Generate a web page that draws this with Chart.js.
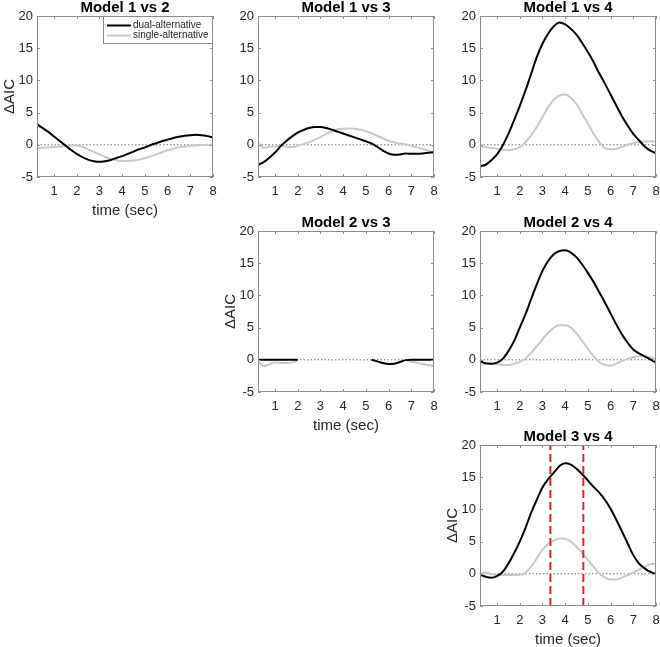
<!DOCTYPE html>
<html>
<head>
<meta charset="utf-8">
<script src="https://cdn.jsdelivr.net/npm/chart.js@4.4.0/dist/chart.umd.min.js"></script>
<style>
  html, body { margin: 0; padding: 0; background: #fff; }
  body { width: 660px; height: 647px; position: relative; overflow: hidden; }
  canvas { position: absolute; }
</style>
</head>
<body>
<script>
// time axis (sec)
const times = [0.25, 0.5, 0.75, 1, 1.25, 1.5, 1.75, 2, 2.25, 2.5, 2.75, 3, 3.25, 3.5, 3.75, 4,
               4.25, 4.5, 4.75, 5, 5.25, 5.5, 5.75, 6, 6.25, 6.5, 6.75, 7, 7.25, 7.5, 7.75, 8];

// delta AIC, dual-alternative (black) and single-alternative (gray)
const m12Dual   = [3.2, 2.6, 2.0, 1.3, 0.6, -0.1, -0.8, -1.4, -1.9, -2.3, -2.55, -2.65, -2.55, -2.35, -2.05, -1.75,
                   -1.4, -1.05, -0.7, -0.4, -0.05, 0.25, 0.55, 0.8, 1.05, 1.25, 1.4, 1.5, 1.55, 1.5, 1.35, 1.15];
const m12Single = [-0.45, -0.45, -0.4, -0.35, -0.3, -0.2, -0.1, -0.1, -0.3, -0.7, -1.1, -1.5, -1.9, -2.2, -2.4, -2.5,
                   -2.5, -2.45, -2.3, -2.1, -1.8, -1.5, -1.15, -0.85, -0.6, -0.4, -0.25, -0.15, -0.1, -0.05, 0, 0];
const m13Dual   = [-3.1, -2.7, -2.0, -1.2, -0.2, 0.6, 1.3, 1.9, 2.3, 2.6, 2.75, 2.75, 2.6, 2.35, 2.05, 1.75,
                   1.45, 1.15, 0.85, 0.55, 0.2, -0.3, -0.9, -1.35, -1.55, -1.5, -1.35, -1.4, -1.4, -1.35, -1.25, -1.15];
const m13Single = [0.3, -0.5, -0.3, -0.25, -0.1, -0.3, -0.35, -0.15, 0.1, 0.4, 0.8, 1.2, 1.7, 2.1, 2.4, 2.5,
                   2.55, 2.5, 2.35, 2.1, 1.8, 1.4, 1.0, 0.6, 0.35, 0.2, 0.05, -0.15, -0.4, -0.65, -0.9, -1.15];
const m14Dual   = [-3.3, -3.1, -2.4, -1.5, -0.1, 1.7, 3.8, 6.0, 8.4, 11.0, 13.6, 15.7, 17.25, 18.4, 19.0, 18.7,
                   18.0, 17.1, 15.8, 14.4, 12.85, 11.1, 9.5, 7.8, 6.1, 4.45, 3.0, 1.7, 0.7, -0.25, -0.9, -1.3];
const m14Single = [-0.2, -0.35, -0.5, -0.6, -0.75, -0.85, -0.7, -0.35, 0.4, 1.45, 2.75, 4.3, 5.85, 7.0, 7.65, 7.8,
                   7.3, 6.3, 4.8, 3.3, 1.7, 0.4, -0.5, -0.7, -0.6, -0.35, 0, 0.25, 0.4, 0.5, 0.55, 0.5];
const m23Dual   = [0, 0, 0, 0, 0, 0, 0, 0, null, null, null, null, null, null, null, null,
                   null, null, null, null, 0, -0.25, -0.5, -0.65, -0.6, -0.35, -0.05, 0, 0, 0, 0, 0];
const m23Single = [-0.2, -1.0, -0.7, -0.4, -0.5, -0.5, -0.4, -0.1, null, null, null, null, null, null, null, null,
                   null, null, null, null, null, null, null, null, null, null, 0, -0.25, -0.45, -0.65, -0.8, -0.95];
const m24Dual   = [-0.2, -0.55, -0.6, -0.45, 0.15, 1.35, 2.9, 5.0, 7.05, 9.4, 11.7, 13.8, 15.35, 16.4, 16.9, 17.0,
                   16.65, 15.9, 14.8, 13.5, 12.1, 10.5, 8.9, 7.2, 5.5, 3.95, 2.65, 1.6, 1.0, 0.55, 0.05, -0.45];
const m24Single = [-0.6, -0.65, -0.65, -0.7, -0.75, -0.8, -0.6, -0.3, 0.2, 1.1, 2.1, 3.15, 4.2, 5.0, 5.35, 5.35,
                   5.0, 4.1, 2.9, 1.7, 0.55, -0.35, -0.8, -0.9, -0.6, -0.2, 0.15, 0.4, 0.55, 0.55, 0.35, 0.05];
const m34Dual   = [-0.1, -0.45, -0.6, -0.35, 0.3, 1.6, 3.2, 5.0, 7.1, 9.45, 11.5, 13.4, 14.7, 15.7, 16.75, 17.15,
                   16.95, 16.3, 15.45, 14.5, 13.5, 12.6, 11.5, 10.1, 8.4, 6.6, 4.75, 2.9, 1.6, 0.85, 0.3, -0.05];
const m34Single = [-0.1, 0.2, -0.05, -0.2, -0.2, -0.2, -0.2, -0.15, 0.15, 1.1, 2.4, 3.7, 4.65, 5.15, 5.5, 5.45,
                   5.0, 4.2, 3.3, 2.15, 1.1, 0.05, -0.55, -0.9, -0.9, -0.6, -0.2, 0.2, 0.7, 1.1, 1.5, 1.6];

// red dashed markers in the last panel
const cutTimes = [3.35, 4.8];

const xTicks = [1, 2, 3, 4, 5, 6, 7, 8];
const yTicks = [-5, 0, 5, 10, 15, 20];
const xMin = 0.25, xMax = 8, yMin = -5, yMax = 20;
const seriesNames = ['dual-alternative', 'single-alternative'];

const FONT = "'Liberation Sans', Arial, Helvetica, sans-serif";
const AXIS_GRAY = '#8c8c8c';
const DUAL_COLOR = '#000000';
const SINGLE_COLOR = '#c8c8c8';

// layout of the grid (px)
const PAD_L = 37, PAD_T = 16, PAD_R = 8, PAD_B = 44;
const PLOT_W = 176, PLOT_H = 161;
const colLeft = [37, 258, 480];
const rowTop = [16, 231, 445];

const panels = [
  { title: 'Model 1 vs 2', dual: m12Dual, single: m12Single, col: 0, row: 0, labels: true, legend: true },
  { title: 'Model 1 vs 3', dual: m13Dual, single: m13Single, col: 1, row: 0 },
  { title: 'Model 1 vs 4', dual: m14Dual, single: m14Single, col: 2, row: 0 },
  { title: 'Model 2 vs 3', dual: m23Dual, single: m23Single, col: 1, row: 1, labels: true },
  { title: 'Model 2 vs 4', dual: m24Dual, single: m24Single, col: 2, row: 1 },
  { title: 'Model 3 vs 4', dual: m34Dual, single: m34Single, col: 2, row: 2, labels: true, cuts: cutTimes }
];

function toPoints(ys) {
  return times.map((t, i) => ({ x: t, y: ys[i] }));
}

// box, inward ticks, title, axis labels, legend (MATLAB look)
const decor = {
  id: 'decor',
  afterDatasetsDraw(chart, args, opts) {
    const { ctx, chartArea: a, scales } = chart;
    ctx.save();
    ctx.strokeStyle = AXIS_GRAY;
    ctx.lineWidth = 1;
    ctx.strokeRect(a.left + 0.5, a.top + 0.5, a.width - 1, a.height - 1);

    const tl = 3;
    ctx.beginPath();
    xTicks.forEach(v => {
      const px = Math.round(scales.x.getPixelForValue(v)) + 0.5;
      ctx.moveTo(px, a.bottom); ctx.lineTo(px, a.bottom - tl);
      ctx.moveTo(px, a.top); ctx.lineTo(px, a.top + tl);
    });
    yTicks.forEach(v => {
      const py = Math.round(scales.y.getPixelForValue(v)) + 0.5;
      ctx.moveTo(a.left, py); ctx.lineTo(a.left + tl, py);
      ctx.moveTo(a.right, py); ctx.lineTo(a.right - tl, py);
    });
    ctx.stroke();

    ctx.fillStyle = '#000';
    ctx.font = 'bold 15px ' + FONT;
    ctx.textAlign = 'center';
    ctx.textBaseline = 'alphabetic';
    ctx.fillText(opts.title, (a.left + a.right) / 2, a.top - 4);

    if (opts.labels) {
      ctx.fillStyle = '#262626';
      ctx.font = '15px ' + FONT;
      ctx.textBaseline = 'middle';
      ctx.fillText('time (sec)', (a.left + a.right) / 2, a.bottom + 34);
      ctx.save();
      ctx.translate(a.left - 27, (a.top + a.bottom) / 2);
      ctx.rotate(-Math.PI / 2);
      ctx.fillText('\u0394AIC', 0, 0);
      ctx.restore();
    }

    if (opts.legend) {
      const lx = a.right - 110, ly = a.top, lw = 110, lh = 28;
      ctx.fillStyle = '#fff';
      ctx.fillRect(lx, ly, lw, lh);
      ctx.strokeStyle = AXIS_GRAY;
      ctx.strokeRect(lx + 0.5, ly + 0.5, lw - 1, lh - 1);
      const cols = [DUAL_COLOR, SINGLE_COLOR];
      ctx.font = '10px ' + FONT;
      ctx.textAlign = 'left';
      ctx.textBaseline = 'middle';
      seriesNames.forEach((name, i) => {
        const y = ly + 9.5 + i * 10;
        ctx.strokeStyle = cols[i];
        ctx.lineWidth = 2;
        ctx.beginPath();
        ctx.moveTo(lx + 4, y); ctx.lineTo(lx + 28, y);
        ctx.stroke();
        ctx.fillStyle = '#262626';
        ctx.fillText(name, lx + 30, y);
      });
    }
    ctx.restore();
  }
};

panels.forEach(p => {
  const canvas = document.createElement('canvas');
  const w = PAD_L + PLOT_W + PAD_R, h = PAD_T + PLOT_H + PAD_B;
  canvas.width = w;
  canvas.height = h;
  canvas.style.width = w + 'px';
  canvas.style.height = h + 'px';
  canvas.style.left = (colLeft[p.col] - PAD_L) + 'px';
  canvas.style.top = (rowTop[p.row] - PAD_T) + 'px';
  document.body.appendChild(canvas);

  const datasets = [];
  (p.cuts || []).forEach(t => {
    datasets.push({
      data: [{ x: t, y: yMin }, { x: t, y: yMax }],
      borderColor: '#d7262b',
      borderWidth: 2,
      borderDash: [8, 4],
      tension: 0
    });
  });
  datasets.push({
    label: seriesNames[0],
    data: toPoints(p.dual),
    borderColor: DUAL_COLOR,
    borderWidth: 2,
    cubicInterpolationMode: 'monotone'
  });
  datasets.push({
    label: seriesNames[1],
    data: toPoints(p.single),
    borderColor: SINGLE_COLOR,
    borderWidth: 2,
    cubicInterpolationMode: 'monotone'
  });
  datasets.push({
    data: [{ x: xMin, y: 0 }, { x: xMax, y: 0 }],
    borderColor: '#444',
    borderWidth: 0.8,
    borderDash: [1.5, 2],
    tension: 0
  });

  new Chart(canvas.getContext('2d'), {
    type: 'line',
    data: { datasets: datasets },
    options: {
      responsive: false,
      animation: false,
      devicePixelRatio: 1,
      layout: { padding: { top: PAD_T, right: PAD_R, left: 0, bottom: 0 } },
      elements: { point: { radius: 0 } },
      plugins: {
        legend: { display: false },
        tooltip: { enabled: false },
        decor: { title: p.title, labels: !!p.labels, legend: !!p.legend }
      },
      scales: {
        x: {
          type: 'linear',
          min: xMin,
          max: xMax,
          grid: { display: false, drawTicks: false },
          border: { display: false },
          afterBuildTicks: s => { s.ticks = xTicks.map(v => ({ value: v })); },
          afterFit: s => { s.height = PAD_B; s.paddingLeft = 0; s.paddingRight = 0; },
          ticks: { color: '#262626', font: { size: 13, family: FONT }, padding: 7, maxRotation: 0, autoSkip: false }
        },
        y: {
          min: yMin,
          max: yMax,
          grid: { display: false, drawTicks: false },
          border: { display: false },
          afterBuildTicks: s => { s.ticks = yTicks.map(v => ({ value: v })); },
          afterFit: s => { s.width = PAD_L; s.paddingTop = 0; s.paddingBottom = 0; },
          ticks: { color: '#262626', font: { size: 13, family: FONT }, padding: 4, autoSkip: false }
        }
      }
    },
    plugins: [decor]
  });
});
</script>
</body>
</html>
